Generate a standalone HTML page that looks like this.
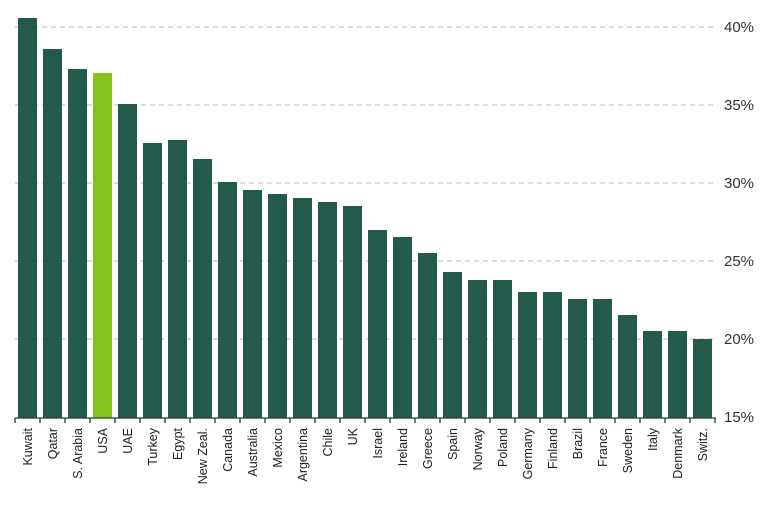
<!DOCTYPE html>
<html><head><style>body{margin:0;background:#fff}</style></head><body>
<svg width="768" height="502" xmlns="http://www.w3.org/2000/svg" font-family="Liberation Sans, sans-serif">
<g stroke="#c8c8c8" stroke-width="1.3" stroke-dasharray="5,4">
<line x1="15" x2="716" y1="27" y2="27"/><line x1="15" x2="716" y1="105" y2="105"/><line x1="15" x2="716" y1="183" y2="183"/><line x1="15" x2="716" y1="261" y2="261"/><line x1="15" x2="716" y1="339" y2="339"/>
</g>
<g fill="#333" font-size="15">
<text x="724" y="32">40%</text><text x="724" y="110">35%</text><text x="724" y="188">30%</text><text x="724" y="266">25%</text><text x="724" y="344">20%</text><text x="724" y="422">15%</text>
</g>
<g id="bars"></g>
<line x1="15" x2="716" y1="418" y2="418" stroke="#333" stroke-width="1.3"/>
<g id="ticks" stroke="#333" stroke-width="1.3"></g>
<g id="labels" fill="#222" font-size="12.5"></g>
</svg>
<script>
var d=[["Kuwait",18],["Qatar",49],["S. Arabia",69],["USA",73],["UAE",104],["Turkey",143],["Egypt",140],["New Zeal.",159],["Canada",182],["Australia",190],["Mexico",194],["Argentina",198],["Chile",202],["UK",206],["Israel",230],["Ireland",237],["Greece",253],["Spain",272],["Norway",280],["Poland",280],["Germany",292],["Finland",292],["Brazil",299],["France",299],["Sweden",315],["Italy",331],["Denmark",331],["Switz.",339]];
var ns="http://www.w3.org/2000/svg",b=document.getElementById("bars"),t=document.getElementById("ticks"),l=document.getElementById("labels");
for(var i=0;i<=28;i++){var ln=document.createElementNS(ns,"line");var x=15+25*i;ln.setAttribute("x1",x);ln.setAttribute("x2",x);ln.setAttribute("y1",418);ln.setAttribute("y2",423);t.appendChild(ln);}
d.forEach(function(e,i){var x=18+25*i;var r=document.createElementNS(ns,"rect");r.setAttribute("x",x);r.setAttribute("y",e[1]);r.setAttribute("width",19);r.setAttribute("height",418-e[1]);r.setAttribute("fill",e[0]=="USA"?"#86c21e":"#245a4b");b.appendChild(r);
var tx=document.createElementNS(ns,"text");var cx=x+14;tx.setAttribute("x",cx);tx.setAttribute("y",428);tx.setAttribute("text-anchor","end");tx.setAttribute("transform","rotate(-90 "+cx+" 428)");tx.textContent=e[0];l.appendChild(tx);});
</script>
</body></html>
